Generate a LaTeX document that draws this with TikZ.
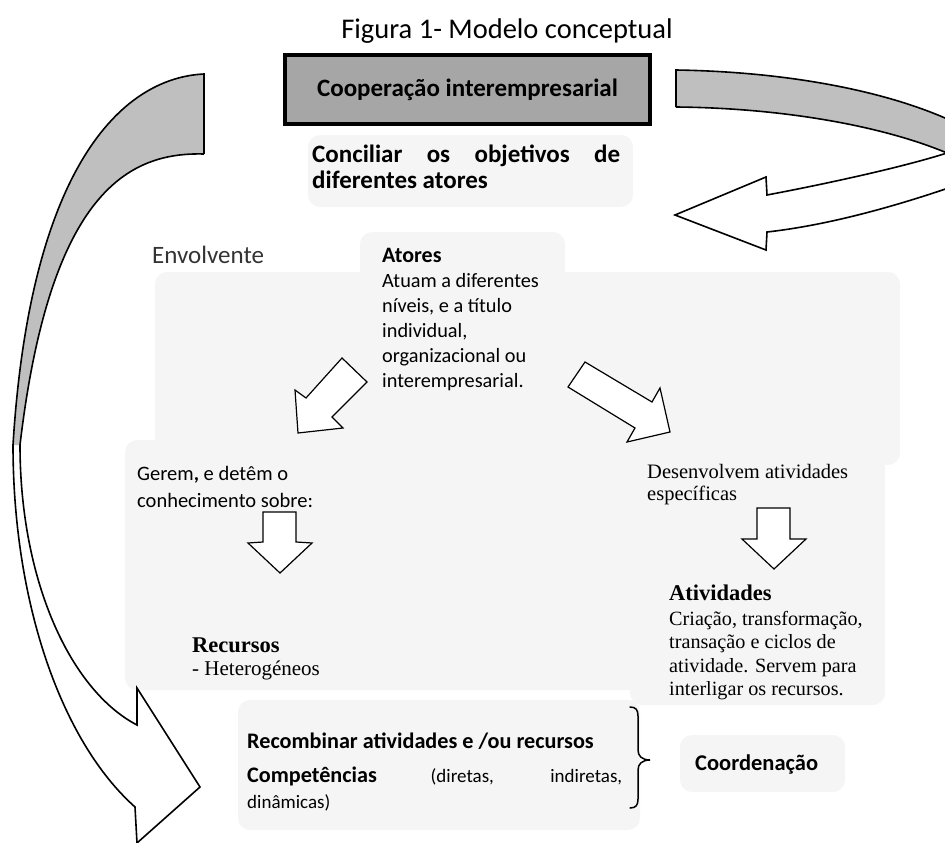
\documentclass[tikz,border=0pt]{standalone}
\usepackage{fontspec}
\setmainfont{Carlito}
\newfontfamily\tnr{Liberation Serif}
\newcommand\myfs[1]{\fontsize{#1}{#1}\selectfont}
\tikzset{
  lbl/.style={inner sep=0pt, anchor=base west},
  blockarrow/.style={draw=black, line width=1.2pt, fill=white, line join=miter},
  bigline/.style={draw=black, line width=1.6pt, line join=miter},
  grayband/.style={fill=black!25},
  stip/.style={fill=black!4, draw=none, rounded corners=12pt},
  titlebox/.style={draw=black, line width=4pt, fill=black!35, minimum width=365pt, minimum height=69pt, inner sep=0pt}
}
\begin{document}
\begin{tikzpicture}[x=1pt,y=-1pt]
\useasboundingbox (0,0) rectangle (945,843);
\clip (0,0) rectangle (945,843);
% faint stippled background areas
\fill[stip] (308,135) rectangle (633,207);
\fill[stip] (360,232) rectangle (565,398);
\fill[stip] (155,272) rectangle (900,465);
\fill[stip] (125,440) rectangle (720,690);
\fill[stip] (630,455) rectangle (885,705);
\fill[stip] (238,700) rectangle (640,830);
\fill[stip] (680,735) rectangle (845,792);

% title
\node[inner sep=0pt, anchor=base] (title) at (507,39) {\myfs{28.5}Figura 1- Modelo conceptual};
% top box
\node[titlebox] (coop) at (467.5,89.5) {\myfs{25}\bfseries Cooperação interempresarial};

% right curved arrow
\fill[grayband] (676,70) .. controls (800,72) and (900,95) .. (960,125) -- (960,150) -- (947,153) .. controls (880,125) and (780,108) .. (676,107) -- cycle;
\fill[white] (947,153) .. controls (900,168) and (820,185) .. (767,195) -- (766,177) -- (675,215) -- (766,250) -- (767,232) .. controls (830,225) and (900,205) .. (960,184) -- (960,150) -- cycle;
\draw[bigline] (676,107) -- (676,70) .. controls (800,72) and (900,95) .. (960,125);
\draw[bigline] (676,107) .. controls (780,108) and (880,125) .. (947,153) .. controls (900,168) and (820,185) .. (767,195) -- (766,177) -- (675,215) -- (766,250) -- (767,232) .. controls (830,225) and (900,205) .. (960,184);

% left curved arrow
\fill[white] (204,74) .. controls (120,78) and (30,170) .. (13,445) .. controls (13,600) and (60,740) .. (135,807) -- (137,843) -- (200,787) -- (137,688) -- (137,725) .. controls (70,690) and (20,580) .. (20,445) .. controls (50,190) and (130,152) .. (204,154) -- cycle;
\fill[grayband] (204,74) .. controls (120,78) and (30,170) .. (13,445) -- (20,445) .. controls (50,190) and (130,152) .. (204,154) -- cycle;
\draw[bigline] (204,154) -- (204,74) .. controls (120,78) and (30,170) .. (13,445) .. controls (13,600) and (60,740) .. (135,807) -- (137,843) -- (200,787) -- (137,688) -- (137,725) .. controls (70,690) and (20,580) .. (20,445) .. controls (50,190) and (130,152) .. (204,154);

% conciliar
\node[lbl] (conc1) at (312,162) {\myfs{25}\bfseries\makebox[308pt][s]{Conciliar os objetivos de}};
\node[lbl] (conc2) at (312,188) {\myfs{25}\bfseries diferentes atores};

% envolvente
\node[lbl, text=black!80] (env) at (152,263) {\myfs{25}Envolvente};

% atores
\node[lbl] (at0) at (382,262) {\myfs{22}\bfseries Atores};
\node[lbl] (at1) at (382,287) {\myfs{20.3}Atuam a diferentes};
\node[lbl] (at2) at (382,312) {\myfs{20.3}níveis, e a título};
\node[lbl] (at3) at (382,337) {\myfs{20.3}individual,};
\node[lbl] (at4) at (382,362) {\myfs{20.3}organizacional ou};
\node[lbl] (at5) at (382,387) {\myfs{20.3}interempresarial.};

% diagonal block arrows
\draw[blockarrow] (342,358) -- (367,382) -- (332,417) -- (343,428) -- (298,433) -- (295,390) -- (306,398) -- cycle;
\draw[blockarrow] (568,387) -- (585,362) -- (652,402) -- (660,388) -- (670,432) -- (627,442) -- (635,428) -- cycle;

% gerem
\node[lbl] (ger1) at (137,480) {\myfs{20.5}Gerem{\bfseries,} e detêm o};
\node[lbl] (ger2) at (137,507) {\myfs{20.5}conhecimento sobre:};

% desenvolvem
\node[lbl] (des1) at (647,478) {\tnr\myfs{20.5}Desenvolvem atividades};
\node[lbl] (des2) at (647,500) {\tnr\myfs{20.5}específicas};

% down block arrows
\draw[blockarrow] (263,512) -- (296,512) -- (296,542) -- (312,543) -- (280,573) -- (248,543) -- (263,542) -- cycle;
\draw[blockarrow] (757,508) -- (790,508) -- (790,539) -- (806,539) -- (774,569) -- (742,539) -- (757,539) -- cycle;

% atividades
\node[lbl] (ativ0) at (669,600) {\tnr\myfs{22.5}\bfseries Atividades};
\node[lbl] (ativ1) at (669,625) {\tnr\myfs{20.2}Criação, transformação,};
\node[lbl] (ativ2) at (669,648) {\tnr\myfs{20.2}transação e ciclos de};
\node[lbl] (ativ3) at (669,672) {\tnr\myfs{20.2}atividade. Servem para};
\node[lbl] (ativ4) at (669,695) {\tnr\myfs{20.2}interligar os recursos.};

% recursos
\node[lbl] (rec0) at (192,652) {\tnr\myfs{22.5}\bfseries Recursos};
\node[lbl] (rec1) at (192,675) {\tnr\myfs{21}- Heterogéneos};

% bottom
\node[lbl] (recomb) at (247,748) {\myfs{22.2}\bfseries Recombinar atividades e /ou recursos};
\node[lbl] (comp) at (247,782) {\myfs{22.2}\makebox[375pt][s]{\bfseries Competências \mdseries\myfs{19}(diretas, indiretas,}};
\node[lbl] (din) at (247,808) {\myfs{19}dinâmicas)};

% brace and coordenacao
\coordinate (bt) at (630,707);
\coordinate (bb) at (630,808);
\draw[line width=1.5pt, line cap=round] (bt) .. controls (636,707) and (638,710) .. (638,716) -- (638,750) .. controls (638,756) and (642,760) .. (650,760) .. controls (642,760) and (638,764) .. (638,770) -- (638,799) .. controls (638,805) and (636,808) .. (bb);
\node[lbl] (coord) at (695,770) {\myfs{22.5}\bfseries Coordenação};
\end{tikzpicture}
\end{document}
